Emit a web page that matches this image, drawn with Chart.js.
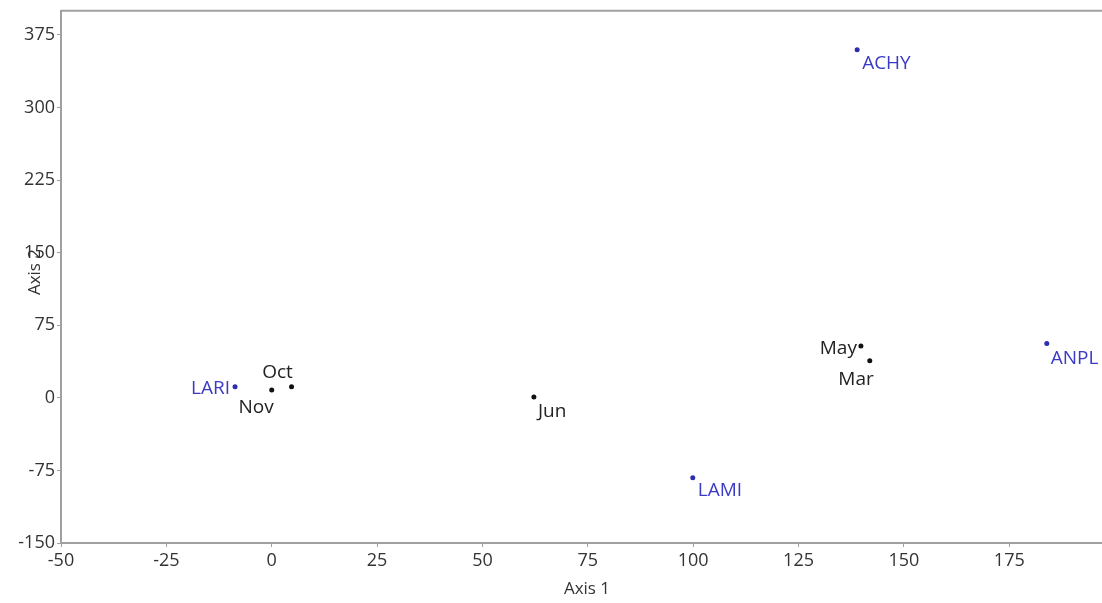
<!DOCTYPE html>
<html>
<head>
<meta charset="utf-8">
<script src="https://cdn.jsdelivr.net/npm/chart.js@4.4.1/dist/chart.umd.min.js"></script>
<style>
    html, body { margin: 0; padding: 0; background: #fff; overflow: hidden; }
    #wrap { width: 1106px; height: 605px; margin-top: -2px; }
</style>
</head>
<body>
<div id="wrap"><canvas id="myChart"></canvas></div>
<script>
// sample sites (months)
var monthNames = ['Oct', 'Nov', 'Jun', 'May', 'Mar'];
var monthX = [4.7, 0, 62.2, 139.8, 141.9];
var monthY = [11.6, 8.2, 1, 53.5, 38.4];

// species
var speciesNames = ['LARI', 'LAMI', 'ACHY', 'ANPL'];
var speciesX = [-8.7, 99.9, 138.9, 183.9];
var speciesY = [11.6, -82.6, 359.8, 56.3];

var xTicks = [-50, -25, 0, 25, 50, 75, 100, 125, 150, 175];
var yTicks = [-150, -75, 0, 75, 150, 225, 300, 375];

var colorSite = '#111111';
var colorSpecies = '#2d2db0';
var colorSpeciesText = '#3a3ac6';
var axisColor = '#a0a0a0';
var fontFamily = "'Open Sans', 'DejaVu Sans', sans-serif";

// where each label sits relative to its point: [dx, dy, align]
var labelPlace = {
    'Oct': [-14, -14, 'center'],
    'Nov': [2, 18, 'right'],
    'Jun': [4, 15, 'left'],
    'May': [-4, 3, 'right'],
    'Mar': [4, 19, 'right'],
    'LARI': [-5, 2, 'right'],
    'LAMI': [5, 13, 'left'],
    'ACHY': [5, 14, 'left'],
    'ANPL': [4, 15, 'left']
};

function toPoints(xs, ys) {
    var pts = [];
    for (var i = 0; i < xs.length; i++) pts.push({ x: xs[i], y: ys[i] });
    return pts;
}

var pointLabels = {
    id: 'pointLabels',
    afterDatasetsDraw: function (chart) {
        var ctx = chart.ctx;
        ctx.save();
        ctx.font = '19px ' + fontFamily;
        ctx.textBaseline = 'middle';
        chart.data.datasets.forEach(function (ds, di) {
            var meta = chart.getDatasetMeta(di);
            meta.data.forEach(function (el, i) {
                var name = ds.names[i];
                var p = labelPlace[name] || [4, 12, 'left'];
                ctx.fillStyle = ds.textColor;
                ctx.textAlign = p[2];
                ctx.fillText(name, el.x + p[0], el.y + p[1]);
            });
        });
        ctx.restore();
    }
};

var frame = {
    id: 'frame',
    afterDraw: function (chart) {
        var ctx = chart.ctx;
        var a = chart.chartArea;
        ctx.save();
        // top border
        ctx.strokeStyle = axisColor;
        ctx.lineWidth = 2;
        ctx.beginPath();
        ctx.moveTo(a.left, a.top);
        ctx.lineTo(a.right, a.top);
        ctx.stroke();
        // axis titles (canvas is shifted up 2px)
        ctx.fillStyle = '#333';
        ctx.font = '17px ' + fontFamily;
        ctx.textAlign = 'center';
        ctx.textBaseline = 'middle';
        ctx.fillText('Axis 1', 587, 591);
        ctx.translate(35, 274);
        ctx.rotate(-Math.PI / 2);
        ctx.fillText('Axis 2', 0, 0);
        ctx.restore();
    }
};

var ctx = document.getElementById('myChart');
var myChart = new Chart(ctx, {
    type: 'scatter',
    data: {
        datasets: [{
            label: 'Sites',
            names: monthNames,
            textColor: '#222',
            data: toPoints(monthX, monthY),
            backgroundColor: colorSite,
            borderColor: colorSite,
            pointRadius: 2.5,
            borderWidth: 0
        }, {
            label: 'Species',
            names: speciesNames,
            textColor: colorSpeciesText,
            data: toPoints(speciesX, speciesY),
            backgroundColor: colorSpecies,
            borderColor: colorSpecies,
            pointRadius: 2.5,
            borderWidth: 0
        }]
    },
    options: {
        responsive: true,
        maintainAspectRatio: false,
        animation: false,
        layout: {
            padding: { top: 10, right: 0, left: 0, bottom: 0 }
        },
        plugins: {
            legend: { display: false },
            tooltip: { enabled: false }
        },
        scales: {
            x: {
                type: 'linear',
                min: -50,
                max: 197,
                afterBuildTicks: function (scale) {
                    scale.ticks = xTicks.map(function (v) { return { value: v }; });
                },
                afterFit: function (scale) { scale.height = 60; },
                grid: {
                    drawOnChartArea: false,
                    drawTicks: true,
                    tickLength: 4,
                    color: axisColor
                },
                border: { color: axisColor, width: 2 },
                ticks: {
                    color: '#333',
                    padding: 3,
                    font: { family: fontFamily, size: 18 }
                }
            },
            y: {
                type: 'linear',
                min: -150,
                max: 400,
                afterBuildTicks: function (scale) {
                    scale.ticks = yTicks.map(function (v) { return { value: v }; });
                },
                afterFit: function (scale) { scale.width = 61; },
                grid: {
                    drawOnChartArea: false,
                    drawTicks: true,
                    tickLength: 4,
                    color: axisColor
                },
                border: { color: axisColor, width: 2 },
                ticks: {
                    color: '#333',
                    padding: 2,
                    font: { family: fontFamily, size: 18 }
                }
            }
        }
    },
    plugins: [pointLabels, frame]
});
</script>
</body>
</html>
